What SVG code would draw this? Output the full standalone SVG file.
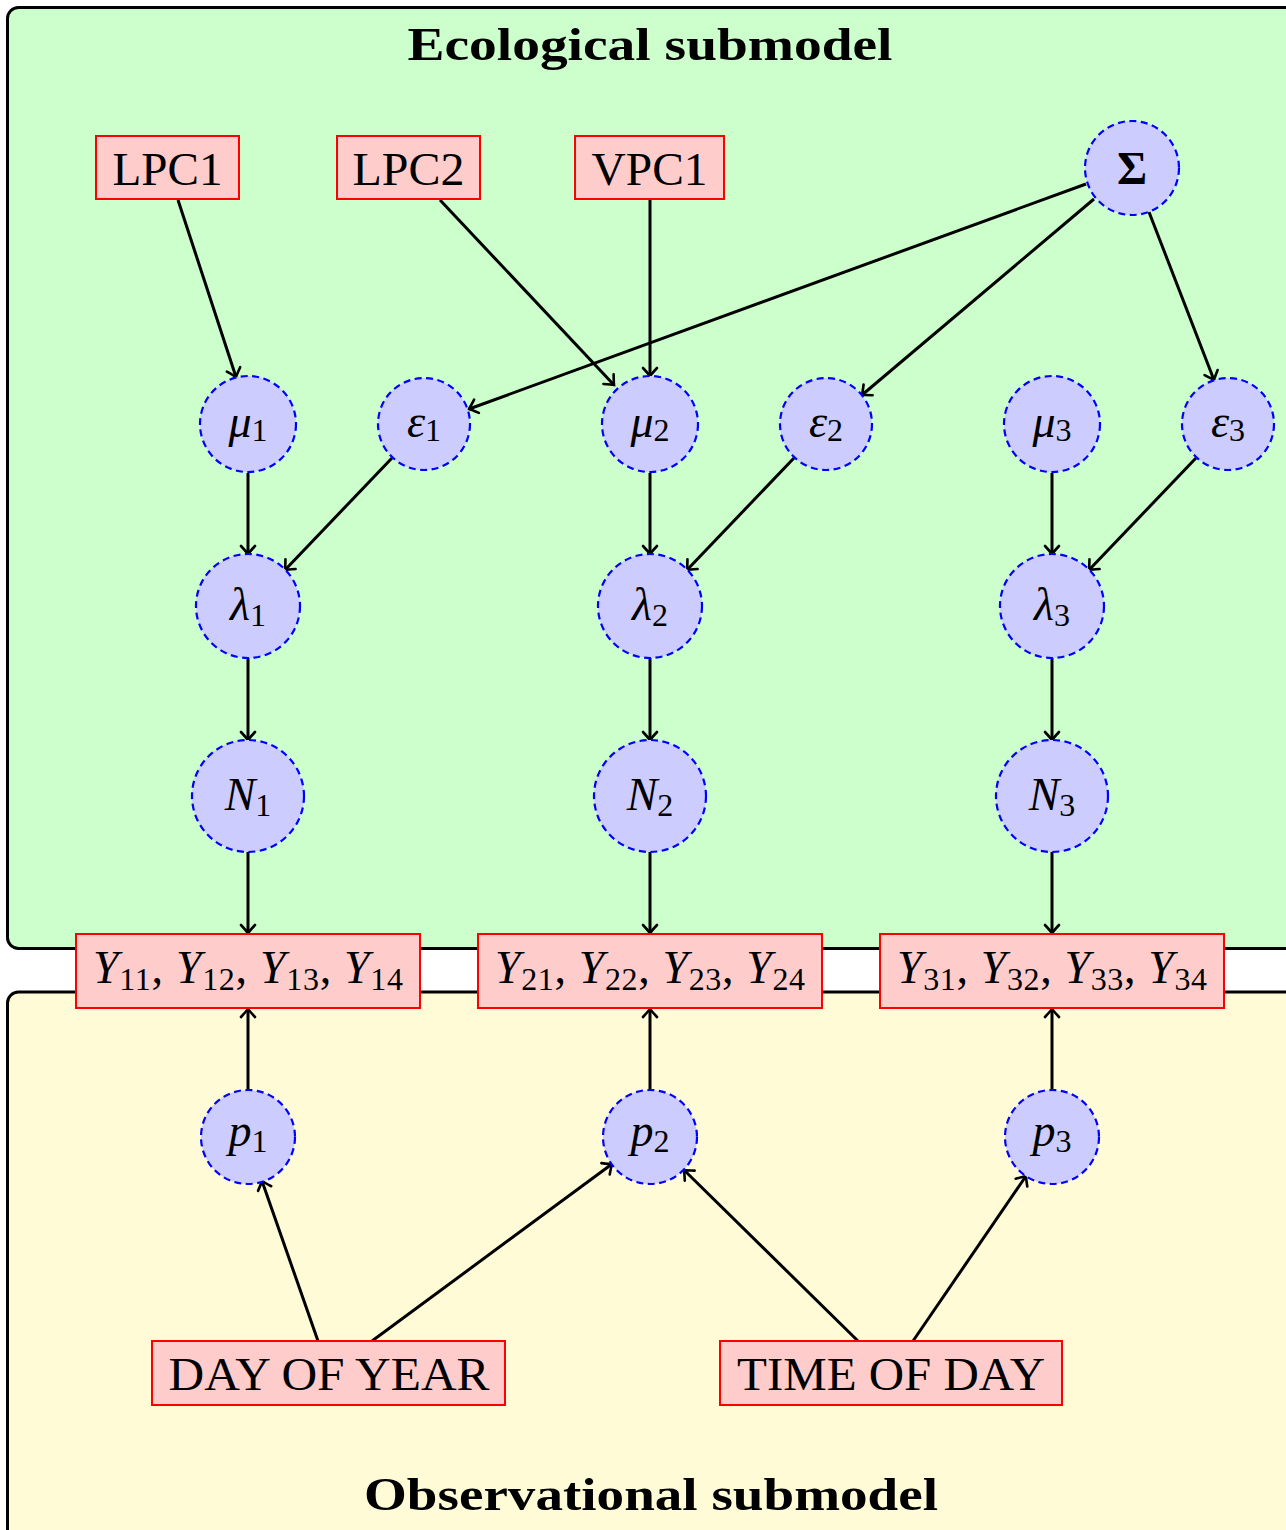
<svg xmlns="http://www.w3.org/2000/svg" width="1286" height="1530" viewBox="0 0 1286 1530">
<style>
.panel{stroke:#000;stroke-width:3}
.box{fill:#ffcccc;stroke:#ff0000;stroke-width:2}
.circ{fill:#ccccff;stroke:#0000ff;stroke-width:2.2;stroke-dasharray:7 4.5}
.t{font-family:"Liberation Serif",serif;font-size:46px;fill:#000;text-anchor:middle}
.m{font-family:"Liberation Serif",serif;font-size:46px;fill:#000;text-anchor:middle}
.i{font-style:italic}
.s{font-size:32px}
.title{font-family:"Liberation Serif",serif;font-size:46px;font-weight:bold;fill:#000;text-anchor:middle}
.c line{stroke:#000;stroke-width:3;marker-end:url(#ah)}
</style>
<defs>
<marker id="ah" markerUnits="userSpaceOnUse" markerWidth="20" markerHeight="20" viewBox="-12 -10 14 20" refX="0" refY="0" orient="auto">
<path d="M-8,-7 Q-2,-1.5 0,0 Q-2,1.5 -8,7" fill="none" stroke="#000" stroke-width="2.6" stroke-linecap="round"/>
</marker>
</defs>
<rect width="1286" height="1530" fill="#ffffff"/>
<g id="ecological-panel">
<rect class="panel" x="7.5" y="7.5" width="1295" height="941" rx="11" fill="#ccffcc"/>
<text class="title" x="650" y="60" textLength="485" lengthAdjust="spacingAndGlyphs">Ecological submodel</text>
</g>
<g id="observational-panel">
<rect class="panel" x="7.5" y="992" width="1295" height="560" rx="11" fill="#fffbd6"/>
<text class="title" x="651" y="1510" textLength="574" lengthAdjust="spacingAndGlyphs">Observational submodel</text>
</g>
<g class="c" id="connectors">
<line x1="178" y1="200" x2="236" y2="377"/>
<line x1="440" y1="200" x2="614" y2="385"/>
<line x1="650" y1="200" x2="650" y2="376"/>
<line x1="1086" y1="184" x2="469" y2="409"/>
<line x1="1094" y1="199" x2="862" y2="395"/>
<line x1="1149" y1="212" x2="1214" y2="380"/>
<line x1="248" y1="473" x2="248" y2="554"/>
<line x1="392" y1="458" x2="285" y2="570"/>
<line x1="650" y1="473" x2="650" y2="554"/>
<line x1="794" y1="458" x2="687" y2="570"/>
<line x1="1052" y1="473" x2="1052" y2="554"/>
<line x1="1196" y1="458" x2="1089" y2="570"/>
<line x1="248" y1="658" x2="248" y2="740"/>
<line x1="650" y1="658" x2="650" y2="740"/>
<line x1="1052" y1="658" x2="1052" y2="740"/>
<line x1="248" y1="852" x2="248" y2="933"/>
<line x1="650" y1="852" x2="650" y2="933"/>
<line x1="1052" y1="852" x2="1052" y2="933"/>
<line x1="248" y1="1090" x2="248" y2="1009"/>
<line x1="650" y1="1090" x2="650" y2="1009"/>
<line x1="1052" y1="1090" x2="1052" y2="1009"/>
<line x1="318" y1="1341" x2="262" y2="1181"/>
<line x1="372" y1="1341" x2="612" y2="1164"/>
<line x1="858" y1="1341" x2="684" y2="1170"/>
<line x1="913" y1="1341" x2="1026" y2="1176"/>
</g>
<g id="LPC1"><rect class="box" x="96" y="136" width="143" height="63"/><text class="t" x="167.5" y="185" textLength="110" lengthAdjust="spacingAndGlyphs">LPC1</text></g>
<g id="LPC2"><rect class="box" x="337" y="136" width="143" height="63"/><text class="t" x="408.5" y="185" textLength="112" lengthAdjust="spacingAndGlyphs">LPC2</text></g>
<g id="VPC1"><rect class="box" x="575" y="136" width="149" height="63"/><text class="t" x="649.5" y="185" textLength="116" lengthAdjust="spacingAndGlyphs">VPC1</text></g>
<g id="Sigma"><circle class="circ" cx="1132" cy="168" r="47"/><text class="m" x="1132" y="184" font-weight="bold">Σ</text></g>
<g id="mu1"><circle class="circ" cx="248" cy="424" r="48"/><text class="m" x="248" y="437"><tspan class="i">μ</tspan><tspan class="s" dy="4">1</tspan></text></g>
<g id="eps1"><circle class="circ" cx="424" cy="424" r="46"/><text class="m" x="424" y="437"><tspan class="i">ε</tspan><tspan class="s" dy="4">1</tspan></text></g>
<g id="mu2"><circle class="circ" cx="650" cy="424" r="48"/><text class="m" x="650" y="437"><tspan class="i">μ</tspan><tspan class="s" dy="4">2</tspan></text></g>
<g id="eps2"><circle class="circ" cx="826" cy="424" r="46"/><text class="m" x="826" y="437"><tspan class="i">ε</tspan><tspan class="s" dy="4">2</tspan></text></g>
<g id="mu3"><circle class="circ" cx="1052" cy="424" r="48"/><text class="m" x="1052" y="437"><tspan class="i">μ</tspan><tspan class="s" dy="4">3</tspan></text></g>
<g id="eps3"><circle class="circ" cx="1228" cy="424" r="46"/><text class="m" x="1228" y="437"><tspan class="i">ε</tspan><tspan class="s" dy="4">3</tspan></text></g>
<g id="lambda1"><circle class="circ" cx="248" cy="606" r="52"/><text class="m" x="248" y="620"><tspan class="i">λ</tspan><tspan class="s" dy="6">1</tspan></text></g>
<g id="lambda2"><circle class="circ" cx="650" cy="606" r="52"/><text class="m" x="650" y="620"><tspan class="i">λ</tspan><tspan class="s" dy="6">2</tspan></text></g>
<g id="lambda3"><circle class="circ" cx="1052" cy="606" r="52"/><text class="m" x="1052" y="620"><tspan class="i">λ</tspan><tspan class="s" dy="6">3</tspan></text></g>
<g id="N1"><circle class="circ" cx="248" cy="796" r="56"/><text class="m" x="248" y="810"><tspan class="i">N</tspan><tspan class="s" dy="6">1</tspan></text></g>
<g id="N2"><circle class="circ" cx="650" cy="796" r="56"/><text class="m" x="650" y="810"><tspan class="i">N</tspan><tspan class="s" dy="6">2</tspan></text></g>
<g id="N3"><circle class="circ" cx="1052" cy="796" r="56"/><text class="m" x="1052" y="810"><tspan class="i">N</tspan><tspan class="s" dy="6">3</tspan></text></g>
<g id="Y1"><rect class="box" x="76" y="934" width="344" height="74"/><text class="m" x="248" y="983" textLength="310" lengthAdjust="spacing"><tspan class="i">Y</tspan><tspan class="s" dy="7">11</tspan><tspan dy="-7">, </tspan><tspan class="i">Y</tspan><tspan class="s" dy="7">12</tspan><tspan dy="-7">, </tspan><tspan class="i">Y</tspan><tspan class="s" dy="7">13</tspan><tspan dy="-7">, </tspan><tspan class="i">Y</tspan><tspan class="s" dy="7">14</tspan></text></g>
<g id="Y2"><rect class="box" x="478" y="934" width="344" height="74"/><text class="m" x="650" y="983" textLength="310" lengthAdjust="spacing"><tspan class="i">Y</tspan><tspan class="s" dy="7">21</tspan><tspan dy="-7">, </tspan><tspan class="i">Y</tspan><tspan class="s" dy="7">22</tspan><tspan dy="-7">, </tspan><tspan class="i">Y</tspan><tspan class="s" dy="7">23</tspan><tspan dy="-7">, </tspan><tspan class="i">Y</tspan><tspan class="s" dy="7">24</tspan></text></g>
<g id="Y3"><rect class="box" x="880" y="934" width="344" height="74"/><text class="m" x="1052" y="983" textLength="310" lengthAdjust="spacing"><tspan class="i">Y</tspan><tspan class="s" dy="7">31</tspan><tspan dy="-7">, </tspan><tspan class="i">Y</tspan><tspan class="s" dy="7">32</tspan><tspan dy="-7">, </tspan><tspan class="i">Y</tspan><tspan class="s" dy="7">33</tspan><tspan dy="-7">, </tspan><tspan class="i">Y</tspan><tspan class="s" dy="7">34</tspan></text></g>
<g id="p1"><circle class="circ" cx="248" cy="1137" r="47"/><text class="m" x="248" y="1146"><tspan class="i">p</tspan><tspan class="s" dy="6">1</tspan></text></g>
<g id="p2"><circle class="circ" cx="650" cy="1137" r="47"/><text class="m" x="650" y="1146"><tspan class="i">p</tspan><tspan class="s" dy="6">2</tspan></text></g>
<g id="p3"><circle class="circ" cx="1052" cy="1137" r="47"/><text class="m" x="1052" y="1146"><tspan class="i">p</tspan><tspan class="s" dy="6">3</tspan></text></g>
<g id="day-of-year"><rect class="box" x="152" y="1341" width="353" height="64"/><text class="t" x="329" y="1390" textLength="321" lengthAdjust="spacingAndGlyphs">DAY OF YEAR</text></g>
<g id="time-of-day"><rect class="box" x="720" y="1341" width="342" height="64"/><text class="t" x="891" y="1390" textLength="308" lengthAdjust="spacingAndGlyphs">TIME OF DAY</text></g>
</svg>
